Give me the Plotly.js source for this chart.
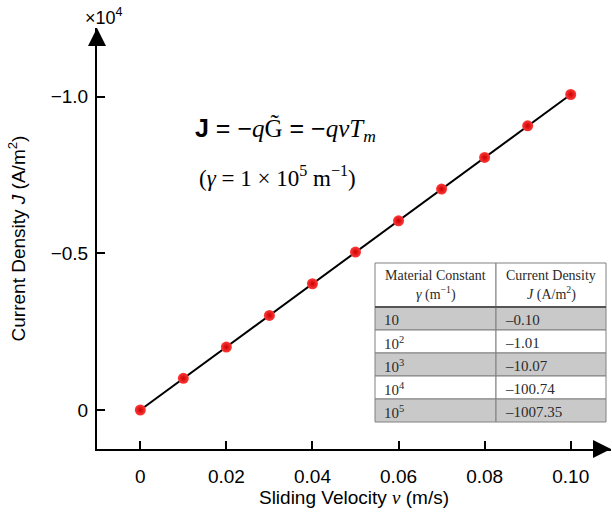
<!DOCTYPE html>
<html>
<head>
<meta charset="utf-8">
<script src="https://cdn.plot.ly/plotly-3.0.1.min.js"></script>
<style>html,body{margin:0;padding:0;background:#fff;}#chart{width:612px;height:515px;}</style>
</head>
<body>
<div id="chart"></div>
<script>
// ---- data ----
const velocity = [0, 0.01, 0.02, 0.03, 0.04, 0.05, 0.06, 0.07, 0.08, 0.09, 0.10];
const currentDensity = [0, -0.101, -0.201, -0.302, -0.403, -0.504, -0.604, -0.705, -0.806, -0.907, -1.007];
const xTickVals = [0, 0.02, 0.04, 0.06, 0.08, 0.10];
const xTickText = ['0', '0.02', '0.04', '0.06', '0.08', '0.10'];
const yTickVals = [0, -0.5, -1.0];
const yTickText = ['0', '\u22120.5', '\u22121.0'];
const tableHeader1 = ['Material Constant', 'Current Density'];
const tableHeader2 = ['<i>\u03b3</i> (m<sup>\u22121</sup>)', '<i>J</i> (A/m<sup>2</sup>)'];
const tableGamma = ['10', '10<sup>2</sup>', '10<sup>3</sup>', '10<sup>4</sup>', '10<sup>5</sup>'];
const tableJ = ['\u20130.10', '\u20131.01', '\u201310.07', '\u2013100.74', '\u20131007.35'];

const SANS = 'Liberation Sans, Arial, sans-serif';
const SERIF = 'Liberation Serif, Times New Roman, serif';

const W = 612, H = 515;
const M = {l: 97, r: 1, t: 28, b: 66};
const pw = W - M.l - M.r, ph = H - M.t - M.b;
const px = x => (x - M.l) / pw;
const py = y => (H - M.b - y) / ph;

// ---- table (drawn as shapes + text, built from the arrays) ----
const T = {left: 375, mid: 496, right: 606, top: 263, headH: 44, rowH: 23};
const shapes = [];
const notes = [];
const gridColor = '#808080';
function rect(x0, y0, x1, y1, fill) {
  shapes.push({type: 'rect', xref: 'paper', yref: 'paper', x0: px(x0), x1: px(x1), y0: py(y1), y1: py(y0),
               fillcolor: fill, line: {color: gridColor, width: 1}, layer: 'above'});
}
const colX = [[T.left, T.mid], [T.mid, T.right]];
// header
colX.forEach((c, i) => {
  rect(c[0], T.top, c[1], T.top + T.headH, '#ffffff');
  const cx = (c[0] + c[1]) / 2;
  notes.push({xref: 'paper', yref: 'paper', x: px(cx), y: py(T.top + 12), xanchor: 'center', yanchor: 'middle',
              showarrow: false, text: tableHeader1[i], font: {family: SERIF, size: 14, color: '#2a2a2a'}});
  notes.push({xref: 'paper', yref: 'paper', x: px(cx), y: py(T.top + 30), xanchor: 'center', yanchor: 'middle',
              showarrow: false, text: tableHeader2[i], font: {family: SERIF, size: 14, color: '#2a2a2a'}});
});
// body rows
const bodyCols = [tableGamma, tableJ];
tableGamma.forEach((_, r) => {
  const y0 = T.top + T.headH + r * T.rowH, y1 = y0 + T.rowH;
  const fill = r % 2 === 0 ? '#c9c9c9' : '#ffffff';
  colX.forEach((c, i) => {
    rect(c[0], y0, c[1], y1, fill);
    notes.push({xref: 'paper', yref: 'paper', x: px(c[0] + 7), y: py((y0 + y1) / 2 + 1), xanchor: 'left', yanchor: 'middle',
                showarrow: false, text: bodyCols[i][r], font: {family: SERIF, size: 15, color: '#2a2a2a'}});
  });
});
// darker header separator
shapes.push({type: 'line', xref: 'paper', yref: 'paper', x0: px(T.left), x1: px(T.right),
             y0: py(T.top + T.headH), y1: py(T.top + T.headH), line: {color: '#555', width: 2}, layer: 'above'});

const traces = [
  {
    type: 'scatter', mode: 'lines+markers',
    x: velocity, y: currentDensity,
    line: {color: '#000000', width: 2},
    marker: {size: 11, color: '#ff3a3a', line: {width: 0},
             gradient: {type: 'radial', color: '#cc0000'}},
    cliponaxis: false, showlegend: false, hoverinfo: 'skip'
  }
];

const layout = {
  width: W, height: H,
  margin: M,
  paper_bgcolor: '#ffffff', plot_bgcolor: 'rgba(0,0,0,0)',
  font: {family: SANS, color: '#000'},
  showlegend: false,
  xaxis: {
    range: [(97 - 140.3) / 4304, (611 - 140.3) / 4304],
    tickmode: 'array', tickvals: xTickVals, ticktext: xTickText,
    ticks: 'inside', ticklen: 8, tickwidth: 2, tickcolor: '#000',
    showline: true, linecolor: '#000', linewidth: 2,
    showgrid: false, zeroline: false,
    ticklabelstandoff: 9,
    tickfont: {family: SANS, size: 19, color: '#000'},
    title: {text: 'Sliding Velocity <span style="font-family:Liberation Serif"><i>v</i></span> (m/s)',
            font: {family: SANS, size: 19, color: '#000'}, standoff: 0}
  },
  yaxis: {
    range: [(449 - 410) / 313.3, -(410 - 28) / 313.3],
    tickmode: 'array', tickvals: yTickVals, ticktext: yTickText,
    ticks: 'inside', ticklen: 8, tickwidth: 2, tickcolor: '#000',
    showline: true, linecolor: '#000', linewidth: 2,
    showgrid: false, zeroline: false,
    ticklabelstandoff: 3,
    tickfont: {family: SANS, size: 19, color: '#000'},
    title: {text: 'Current Density <i>J</i> (A/m<sup>2</sup>)',
            font: {family: SANS, size: 19, color: '#000'}, standoff: 20}
  },
  shapes: shapes,
  annotations: [
    {xref: 'paper', yref: 'paper', x: 1, y: 0, ax: -16, ay: 0, text: '',
     showarrow: true, arrowhead: 2, arrowsize: 1.8, arrowwidth: 2, arrowcolor: '#000', standoff: 0},
    {xref: 'paper', yref: 'paper', x: 0, y: 1, ax: 0, ay: 16, text: '',
     showarrow: true, arrowhead: 2, arrowsize: 1.8, arrowwidth: 2, arrowcolor: '#000', standoff: 0},
    {xref: 'paper', yref: 'paper', x: px(83), y: py(17), xanchor: 'left', yanchor: 'middle',
     text: '\u00d710<sup>4</sup>', showarrow: false, font: {family: SANS, size: 18, color: '#000'}},
    {xref: 'paper', yref: 'paper', x: px(193), y: py(130), xanchor: 'left', yanchor: 'middle',
     showarrow: false, font: {family: SANS, size: 25, color: '#000'},
     text: '<b>J</b> = \u2212<span style="font-family:Liberation Serif"><i>q</i>G\u0303</span> = \u2212<span style="font-family:Liberation Serif"><i>qvT<sub>m</sub></i></span>'},
    {xref: 'paper', yref: 'paper', x: px(197), y: py(177), xanchor: 'left', yanchor: 'middle',
     showarrow: false, font: {family: SERIF, size: 23, color: '#000'},
     text: '(<i>\u03b3</i> = 1 \u00d7 10<sup>5</sup> m<sup>\u22121</sup>)'}
  ].concat(notes)
};

Plotly.newPlot('chart', traces, layout, {displayModeBar: false, staticPlot: true});
</script>
</body>
</html>
